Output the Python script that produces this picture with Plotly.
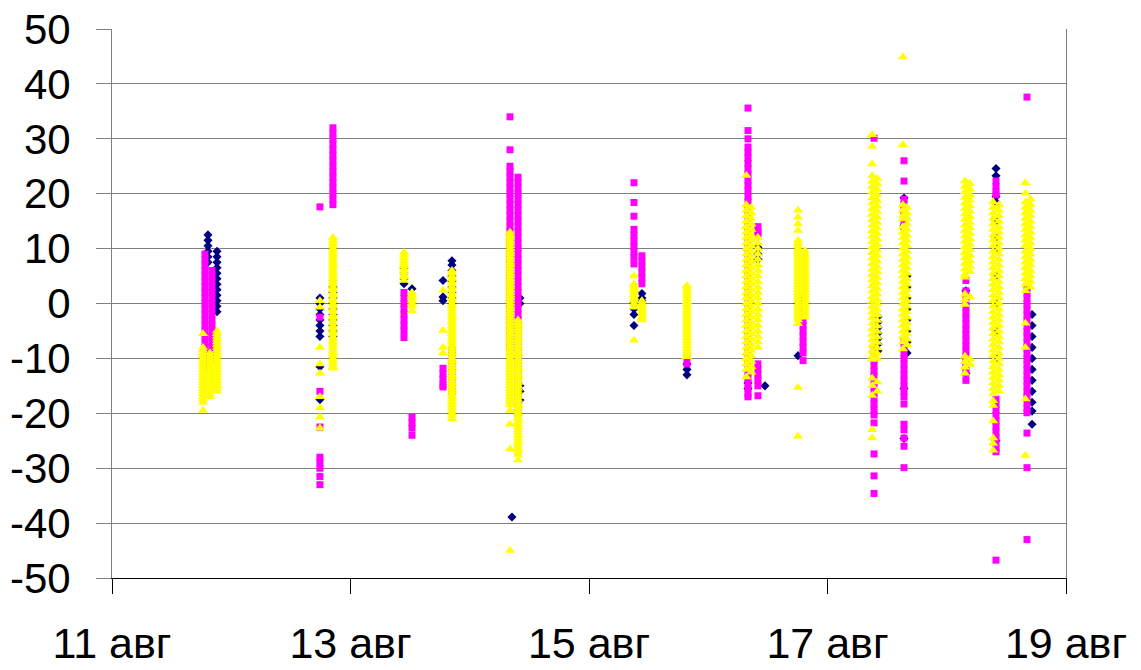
import pandas as pd
import plotly.graph_objects as go

# ---------------- data ----------------
navy_times = [
    "2007-08-11 19:19", "2007-08-11 21:08",
    "2007-08-12 17:51", "2007-08-12 20:28",
    "2007-08-13 10:46", "2007-08-13 12:23", "2007-08-13 18:37", "2007-08-13 20:25",
    "2007-08-14 08:30", "2007-08-14 10:06",
    "2007-08-15 09:03", "2007-08-15 10:39", "2007-08-15 19:43",
    "2007-08-16 08:00", "2007-08-16 10:00", "2007-08-16 11:25", "2007-08-16 18:04",
    "2007-08-17 10:09", "2007-08-17 15:24", "2007-08-17 16:00",
    "2007-08-18 03:52", "2007-08-18 09:55", "2007-08-18 17:10",
]
navy_values = [
    [12.5, 11.5, 10.5, 9.5, 8.5, 7.5],
    [9.5, 8.5, 7.5, 6.5, 5.5, 4.5, 3.5, 2.5, 1.5, 0.5, -0.5, -1.5],
    [1, 0, -1, -2, -3, -4, -5, -6, -11.5, -17.5],
    [3, 2, 1, 0, -1, -2, -3, -4, -5, -6],
    [6.5, 5.5, 4.5, 3.6],
    [2.7],
    [4.2, 1.2, 0.5],
    [7.8, 7, 6, 5, 4, 3, 2, 1, 0],
    [-38.9],
    [1, 0, -15, -16, -17.6],
    [0, -1, -2, -4],
    [1.8, 1, 0.5],
    [-11, -12, -13],
    [-8, -11, -14.5, -15.5],
    [10.2, 9, 8],
    [-15],
    [0, -9.5],
    [-2.4, -3.4, -4.4, -5.4, -6.4, -7.4, -8.6],
    [19.2, 14.2, -15.5, -24.6],
    [5, 3, 1, -1, -3, -5, -7, -9],
    [2.3, -12.7],
    [24.6, 23.25, 19.5, 18.5, 15, 12, 10, 5, 0, -5, -10, -25],
    [-2, -4, -6, -8, -10, -12, -14, -16, -18, -19.6, -22],
]

magenta_times = [
    "2007-08-11 18:43", "2007-08-11 20:07",
    "2007-08-12 17:51", "2007-08-12 20:28",
    "2007-08-13 10:46", "2007-08-13 12:23", "2007-08-13 18:37", "2007-08-13 20:25",
    "2007-08-14 08:06", "2007-08-14 09:43",
    "2007-08-15 09:03", "2007-08-15 10:39", "2007-08-15 19:43",
    "2007-08-16 08:00", "2007-08-16 10:00", "2007-08-16 19:05",
    "2007-08-17 09:22", "2007-08-17 15:24",
    "2007-08-18 03:52", "2007-08-18 09:55", "2007-08-18 16:09",
]
magenta_values = [
    [9, 8, 7, 6, 5, 4, 3, 2, 1, 0, -1, -2, -3, -4, -5, -6, -7, -8, -9, -10, -11, -12],
    [6, 5, 4, 3, 2, 1, 0, -1, -2, -3, -4, -5, -6, -7, -8, -9, -10],
    [17.6, -2.5, -16, -22.5, -28, -29, -30, -31.5, -33],
    [32, 31, 30, 29, 28, 27, 26, 25, 24, 23, 22, 21, 20, 19, 18],
    [2, 1, 0, -1, -2, -3, -4, -5, -6.2],
    [-20.7, -21.7, -22.7, -24],
    [-11.8, -12.8, -13.8, -14.8, -15.2],
    [-8.5, -9.5, -10.5, -11.5, -12.5, -13.5, -14.5, -16],
    [34, 28, 25, 24, 23, 22, 21, 20, 19, 18, 17, 16, 15, 14, 13, 12, 11, 10, 9, 8, 7,
     6, 5, 4, 3, 2, 1, 0, -1, -2, -3, -4, -5, -6, -7, -8],
    [23, 22, 21, 20, 19, 18, 17, 16, 15, 14, 13, 12, 11, 10, 9, 8, 7, 6, 5, 4, 3, 2, 1,
     0, -1, -2, -3, -4, -5, -6, -7, -8, -9, -10, -11, -12, -13, -14, -15, -16, -17, -18,
     -19, -20],
    [22, 18.4, 15.9, 13.5, 12.4, 11.4, 10.4, 9.4, 8.4, 7.2],
    [8.7, 7.7, 6.7, 5.7, 4.7, 3.6],
    [-9.8, -11],
    [35.6, 31.5, 30, 28.5, 27.5, 26.5, 25.5, 24.5, 23.5, 22.5, 21.5, 20.5, 19.5, 18.5,
     17.5, 16.5, 15.5, 14.5, 13.5, 12.5, 11.5, 10.5, 9.5, 8.5, 7.5, 6.5, 5.5, 4.5, 3.5,
     2.5, 1.5, 0.5, -0.5, -1.5, -2.5, -3.5, -4.5, -5.5, -6.5, -7.5, -8.5, -9.5, -10.5,
     -11.5, -12.5, -13.5, -14.5, -15.5, -16.5, -17],
    [14, 13, 12.7, -11, -12, -13, -14, -15, -16.8],
    [1, 0, -1, -2, -3, -4, -5, -6, -7, -8, -9, -10.4],
    [30.1, -8.3, -9.3, -10.3, -11.3, -12.3, -13.3, -14.3, -15.3, -16.3, -17.3, -18.3,
     -19.3, -20.3, -21.75, -27.4, -31.4, -34.6],
    [26, 22.3, 19, 18, 17, 16, 15, 14, -7, -8, -9, -10, -11, -12, -13, -14, -15, -16,
     -17, -18.3, -22, -23, -24.5, -26, -29.9],
    [4.2, 2.3, 1.3, 0.3, -0.7, -1.7, -2.7, -3.7, -4.7, -5.7, -6.7, -7.7, -8.7, -9.7,
     -10.7, -11.7, -12.7, -14],
    [22.3, 21.3, 20.3, 19.8, -17.4, -18.4, -19.4, -20.4, -21.4, -22.4, -23.4, -24.4,
     -25.4, -26.4, -27, -46.75],
    [37.6, 2.9, 1.9, 0.9, -0.1, -1.1, -2.1, -3.1, -4.1, -5.1, -6.1, -7.1, -8.1, -9.1,
     -10.1, -11.1, -12.1, -13.1, -14.1, -15.1, -16.1, -17.1, -18.1, -19.1, -19.9,
     -23.6, -29.9, -43],
]

yellow_times = [
    "2007-08-11 18:19", "2007-08-11 19:43", "2007-08-11 21:08",
    "2007-08-12 17:51", "2007-08-12 20:28",
    "2007-08-13 10:46", "2007-08-13 12:23", "2007-08-13 18:37", "2007-08-13 20:25",
    "2007-08-14 08:06", "2007-08-14 09:43",
    "2007-08-15 09:03", "2007-08-15 10:39", "2007-08-15 19:43",
    "2007-08-16 07:40", "2007-08-16 08:40", "2007-08-16 10:00",
    "2007-08-16 18:04", "2007-08-16 19:28",
    "2007-08-17 09:00", "2007-08-17 10:00", "2007-08-17 15:10", "2007-08-17 16:00",
    "2007-08-18 03:40", "2007-08-18 04:40", "2007-08-18 09:20", "2007-08-18 10:30",
    "2007-08-18 15:50", "2007-08-18 16:50",
]
yellow_values = [
    [-5.5, -8, -8.5, -9, -9.5, -10, -10.5, -11, -11.5, -12, -12.5, -13, -13.5, -14,
     -14.5, -15, -15.5, -16, -16.5, -17, -17.5, -18, -19.5],
    [-9, -9.5, -10, -10.5, -11, -11.5, -12, -12.5, -13, -13.5, -14, -14.5, -15, -15.5,
     -16, -16.5, -17],
    [-5, -5.5, -6, -6.5, -7, -7.5, -8, -8.5, -9, -9.5, -10, -10.5, -11, -11.5, -12,
     -12.5, -13, -13.5, -14, -14.5, -15, -15.5, -16],
    [0.5, -0.7, -8, -11, -12.7, -17, -19, -20.7, -22.7],
    [12, 11.5, 11, 10.5, 10, 9.5, 9, 8.5, 8, 7.5, 7, 6.5, 6, 5.5, 5, 4.5, 4, 3.5, 3,
     2.5, 2, 1.5, 1, 0.5, 0, -0.5, -1, -1.5, -2, -2.5, -3, -3.5, -4, -4.5, -5, -5.5,
     -6, -6.5, -7, -7.5, -8, -8.5, -9, -9.5, -10, -10.5, -11, -11.5, -11.8],
    [9.3, 8.8, 8.3, 7.8, 7.3, 6.8, 6.3, 5.8, 5.3, 4.8, 4.2],
    [2, 1.5, 1, 0.5, 0, -0.5, -1.3],
    [2.4, -4.9, -8, -9],
    [6, 5.5, 5, 4.5, 4, 3.5, 3, 2.5, 2, 1.5, 1, 0.5, 0, -0.5, -1, -1.5, -2, -2.5, -3,
     -3.5, -4, -4.5, -5, -5.5, -6, -6.5, -7, -7.5, -8, -8.5, -9, -9.5, -10, -10.5, -11,
     -11.5, -12, -12.5, -13, -13.5, -14, -14.5, -15, -15.5, -16, -16.5, -17, -17.5, -18,
     -18.5, -19, -19.5, -20, -20.5, -21],
    [13, 12.5, 12, 11.5, 11, 10.5, 10, 9.5, 9, 8.5, 8, 7.5, 7, 6.5, 6, 5.5, 5, 4.5, 4,
     3.5, 3, 2.5, 2, 1.5, 1, 0.5, 0, -0.5, -1, -1.5, -2, -2.5, -3, -3.5, -4, -4.5, -5,
     -5.5, -6, -6.5, -7, -7.5, -8, -8.5, -9, -9.5, -10, -10.5, -11, -11.5, -12, -12.5,
     -13, -13.5, -14, -14.5, -15, -15.5, -16, -16.5, -17, -17.5, -18, -18.5, -19.5,
     -22, -26.5, -45],
    [-3, -3.5, -4, -4.5, -5, -5.5, -6, -6.5, -7, -7.5, -8, -8.5, -9, -9.5, -10, -10.5,
     -11, -11.5, -12, -12.5, -13, -13.5, -14, -14.5, -15, -15.5, -16, -16.5, -17, -17.5,
     -18, -18.5, -19, -19.5, -20, -20.5, -21, -21.5, -22, -22.5, -23, -23.5, -24, -24.5,
     -25, -25.5, -26, -26.5, -27, -27.5, -28.5],
    [5, 3.6, 3.1, 2.6, 2.1, 1.6, 1.1, 0.6, 0, -0.7, -6.7],
    [0.5, 0, -0.5, -1, -1.5, -2, -2.5, -3],
    [3.3, 2.8, 2.3, 1.8, 1.3, 0.8, 0.3, -0.2, -0.7, -1.2, -1.7, -2.2, -2.7, -3.2, -3.7,
     -4.2, -4.7, -5.2, -5.7, -6.2, -6.7, -7.2, -7.7, -8.2, -8.7, -9.2, -9.7],
    [23.3, 18, 17, 16, 15, 14, 13, 12, 11, 10, 9, 8, 7, 6, 5, 4, 3, 2, 1, 0, -1, -2, -3,
     -4, -5, -6, -7, -8, -9, -10, -11, -12, -13.4],
    [17.5, 16.5, 15.5, 14.5, 13.5, 12.5, 11.5, 10.5, 9.5, 8.5, 7.5, 6.5, 5.5, 4.5, 3.5,
     2.5, 1.5, 0.5, -0.5, -1.5, -2.5, -3.5, -4.5, -5.5, -6.5, -7.5, -8.5, -9.5, -10.5,
     -11.5, -12.5],
    [12, 11, 10, 9, 8, 7, 6, 5, 4, 3, 2, 1, 0, -1, -2, -3, -4, -5, -6, -7, -8],
    [17, 15.7, 14.5, 13.3, 11.5, 11, 10.5, 10, 9.5, 9, 8.5, 8, 7.5, 7, 6.5, 6, 5.5, 5,
     4.5, 4, 3.5, 3, 2.5, 2, 1.5, 1, 0.5, 0, -0.5, -1, -1.5, -2, -2.5, -3, -3.7, -15.3,
     -24.2],
    [9.6, 9, 8.5, 8, 7.5, 7, 6.5, 6, 5.5, 5, 4.5, 4, 3.5, 3, 2.5, 2, 1.5, 1, 0.5, 0,
     -0.5, -1, -1.5, -2, -2.5],
    [30.75, 28.6, 25.4, 23.25, 22.25, 21.25, 20.25, 19.25, 18.25, 17.25, 16.25, 15.25,
     14.25, 13.25, 12.25, 11.25, 10.25, 9.25, 8.25, 7.25, 6.25, 5.25, 4.25, 3.25, 2.25,
     1.25, 0.4, -0.6, -1.6, -2.6, -3.6, -4.6, -5.6, -6.6, -7.6, -8.6, -9.6, -10.2,
     -13.6, -15, -16.75, -23, -24.5],
    [22.75, 21.75, 20.75, 19.75, 18.75, 17.75, 16.75, 15.75, 14.75, 13.75, 12.75, 11.75,
     10.75, 9.75, 8.75, 7.75, 6.75, 5.75, 4.75, 3.75, 2.75, 1.75, 0.75, -0.1, -1.1,
     -2.1, -3.1, -4.1, -5.1, -6.1, -7.1, -8.1, -9.1, -10, -14.3, -16],
    [44.9, 28.9, 18, 17, 16, 15.4, 14, 13, 12, 11, 10, 9, 8, 7, 6, 5, 4, 3, 2, 1, 0, -1,
     -2, -3, -4, -5, -6, -7, -8.3],
    [17.5, 16.5, 15.5, 14.5, 13.5, 12.5, 11.5, 10.5, 9.5, 8.5, 7.5, 6.5, 5.5, 4.5, 3.5,
     2.5, 1.5, 0.5, -0.5, -1.5, -2.5, -3.5, -4.5, -5.5, -6.5, -7.5],
    [22.3, 21.3, 20.3, 19.3, 18.3, 17.3, 16.3, 15.3, 14.3, 13.3, 12.3, 11.3, 10.3, 9.3,
     8.3, 7.3, 6.3, 5.3, 4.8, 1.7, 0.7, -0.2, -9.6, -10.6, -11.6, -12.7],
    [21.8, 20.8, 19.8, 18.8, 17.8, 16.8, 15.8, 14.8, 13.8, 12.8, 11.8, 10.8, 9.8, 8.8,
     7.8, 6.8, 5.8, 1.2, -10.1, -11.1],
    [18.5, 17.5, 16.5, 15.5, 14.5, 13.5, 12.5, 11.5, 10.5, 9.5, 8.5, 7.5, 6.5, 5.5, 4.5,
     3.5, 2.5, 1.5, 0.5, -0.5, -1.5, -2.5, -3.5, -4.5, -5.5, -6.5, -7.5, -8.5, -9.5,
     -10.5, -11.5, -12.5, -13.5, -14.5, -15.5, -16.5, -17.7, -18.6, -21.4, -24.5, -25.5,
     -26.75],
    [18, 17, 16, 15, 14, 13, 12, 11, 10, 9, 8, 7, 6, 5, 4, 3, 2, 1, 0, -1, -2, -3, -4,
     -5, -6, -7, -8, -9, -10, -11, -12, -13, -14, -15, -16],
    [22, 20.1, 18.5, 17.5, 16.5, 15.5, 14.5, 13.5, 12.5, 11.5, 10.5, 9.5, 8.5, 7.5, 6.5,
     5.5, 4.5, 3.5, 2.3, -3.6, -8, -17.4, -27.7],
    [19, 18, 17, 16, 15, 14, 13, 12, 11, 10, 9, 8, 7, 6, 5, 4, 3],
]

x_tick_dates = ["2007-08-11", "2007-08-13", "2007-08-15", "2007-08-17", "2007-08-19"]
x_tick_labels = ["11 авг", "13 авг", "15 авг", "17 авг", "19 авг"]
y_tick_values = [-50, -40, -30, -20, -10, 0, 10, 20, 30, 40, 50]
y_tick_labels = ["-50", "-40", "-30", "-20", "-10", "0", "10", "20", "30", "40", "50"]


def expand(times, values):
    xs, ys = [], []
    for t, vals in zip(times, values):
        for v in vals:
            xs.append(pd.Timestamp(t))
            ys.append(v)
    return xs, ys


nx, ny = expand(navy_times, navy_values)
mx, my = expand(magenta_times, magenta_values)
yx, yy = expand(yellow_times, yellow_values)

fig = go.Figure()
fig.add_trace(go.Scatter(x=nx, y=ny, mode="markers", name="1",
                         marker=dict(symbol="diamond", size=7, color="#000080",
                                     line=dict(width=0))))
fig.add_trace(go.Scatter(x=mx, y=my, mode="markers", name="2",
                         marker=dict(symbol="square", size=7, color="#FF00FF",
                                     line=dict(width=0))))
fig.add_trace(go.Scatter(x=yx, y=yy, mode="markers", name="3",
                         marker=dict(symbol="triangle-up", size=9, color="#FFFF00",
                                     line=dict(width=0))))

font_family = "Liberation Sans, Arial, Helvetica, sans-serif"

fig.update_layout(
    width=1141, height=670,
    margin=dict(l=112, r=75, t=29, b=92),
    paper_bgcolor="white", plot_bgcolor="white",
    showlegend=False,
    font=dict(family=font_family, size=43, color="black"),
)
fig.update_xaxes(
    type="date", automargin=False,
    range=["2007-08-11", "2007-08-19"],
    tickvals=x_tick_dates, ticktext=x_tick_labels,
    showgrid=False, zeroline=False,
    showline=True, linecolor="black", linewidth=1,
    ticks="outside", ticklen=15, tickcolor="black", tickwidth=1,
    tickfont=dict(family=font_family, size=43, color="black"),
    ticklabelstandoff=12,
)
fig.update_yaxes(
    automargin=False,
    range=[-50, 50],
    tickvals=y_tick_values, ticktext=y_tick_labels,
    showgrid=True, gridcolor="#808080", gridwidth=1,
    zeroline=False,
    showline=True, linecolor="#808080", linewidth=1, mirror=True,
    ticks="outside", ticklen=15, tickcolor="#808080", tickwidth=1,
    tickfont=dict(family=font_family, size=42, color="black"),
    ticklabelstandoff=17,
)

fig.write_html(
    "out.html",
    config={"displayModeBar": False},
    post_script="document.body.style.margin='0';document.body.style.overflow='hidden';",
)
